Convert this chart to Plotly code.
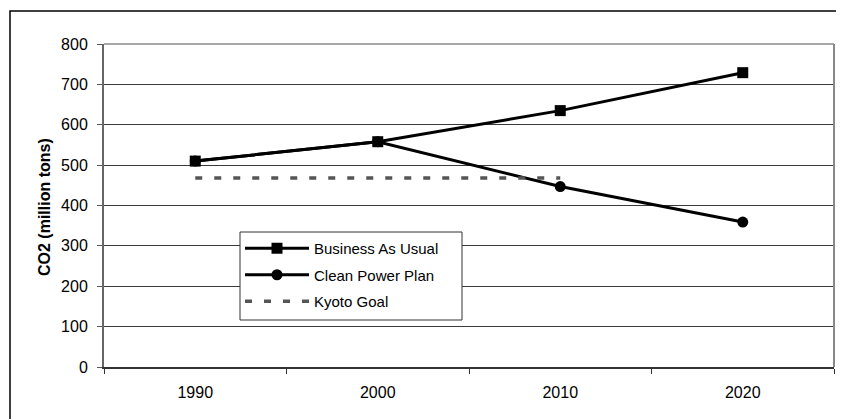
import plotly.graph_objects as go

years = ["1990", "2000", "2010", "2020"]
business_as_usual = [510, 558, 635, 729]
clean_power_plan = [510, 558, 447, 359]
kyoto_years = ["1990", "2000", "2010"]
kyoto_goal = [468, 468, 468]
y_ticks = [0, 100, 200, 300, 400, 500, 600, 700, 800]

OFF = 8  # page body margin
W, H = 844, 419
# plot area in screen pixels: x 104..834, y 44..367
L = 104 - OFF
T = 44 - OFF
R = W - (834 - OFF)
B = H - (367 - OFF)
pw, ph = W - L - R, H - T - B

def px_x(p):
    return (p - OFF - L) / pw

def px_y(p):
    return (H - B - (p - OFF)) / ph

FONT = "Liberation Sans, Arial, sans-serif"

fig = go.Figure()
fig.add_trace(go.Scatter(
    x=years, y=business_as_usual, name="Business As Usual", mode="lines+markers",
    legendgroup="a",
    line=dict(color="black", width=3), marker=dict(symbol="square", size=11, color="black")))
fig.add_trace(go.Scatter(
    x=years, y=clean_power_plan, name="Clean Power Plan", mode="lines+markers",
    legendgroup="b",
    line=dict(color="black", width=3), marker=dict(symbol="circle", size=11, color="black")))
fig.add_trace(go.Scatter(
    x=kyoto_years, y=kyoto_goal, name="Kyoto Goal", mode="lines",
    legendgroup="c",
    line=dict(color="#555555", width=3.5, dash="7px,12px")))

fig.update_layout(
    width=W, height=H,
    margin=dict(l=L, r=R, t=T, b=B, pad=0),
    paper_bgcolor="white", plot_bgcolor="white",
    font=dict(family=FONT, size=15, color="black"),
    showlegend=True,
    legend=dict(
        x=px_x(240), y=px_y(232), xanchor="left", yanchor="top",
        borderwidth=0, bgcolor="rgba(0,0,0,0)",
        font=dict(family=FONT, size=15, color="black"),
        itemwidth=64, tracegroupgap=4,
    ),
    xaxis=dict(
        type="category", categoryorder="array", categoryarray=years,
        range=[-0.5, 3.5], tickson="boundaries",
        ticks="outside", ticklen=5, tickcolor="#333333", tickwidth=1,
        showline=True, linecolor="#333333", linewidth=2,
        showgrid=False, zeroline=False, ticklabelstandoff=10,
        tickfont=dict(family=FONT, size=16),
    ),
    yaxis=dict(
        range=[0, 800], tickvals=y_ticks, ticktext=[str(v) for v in y_ticks],
        ticks="outside", ticklen=5, tickcolor="#555555",
        showline=True, linecolor="#666666", linewidth=2,
        showgrid=True, gridcolor="#3a3a3a", gridwidth=1,
        zeroline=False, ticklabelstandoff=6,
        tickfont=dict(family=FONT, size=16),
    ),
    annotations=[dict(
        text="<b>CO2 (million tons)</b>", textangle=-90,
        xref="paper", yref="paper", x=px_x(44), y=px_y(207),
        xanchor="center", yanchor="middle", showarrow=False,
        font=dict(family=FONT, size=16, color="black"),
    )],
    shapes=[
        dict(type="line", xref="paper", yref="paper", x0=1, x1=1, y0=0, y1=1,
             line=dict(color="#888888", width=2), layer="above"),
        dict(type="line", xref="paper", yref="paper", x0=0, x1=1, y0=1, y1=1,
             line=dict(color="#888888", width=1.5), layer="below"),
        dict(type="rect", xref="paper", yref="paper",
             x0=px_x(240), x1=px_x(462), y0=px_y(320), y1=px_y(232),
             line=dict(color="#333333", width=1), fillcolor="white", layer="above"),
        dict(type="rect", xref="paper", yref="paper",
             x0=px_x(10), x1=px_x(900), y0=px_y(11), y1=px_y(480),
             line=dict(color="black", width=1.5), fillcolor="rgba(0,0,0,0)"),
    ],
)

fig.write_html("out.html")
